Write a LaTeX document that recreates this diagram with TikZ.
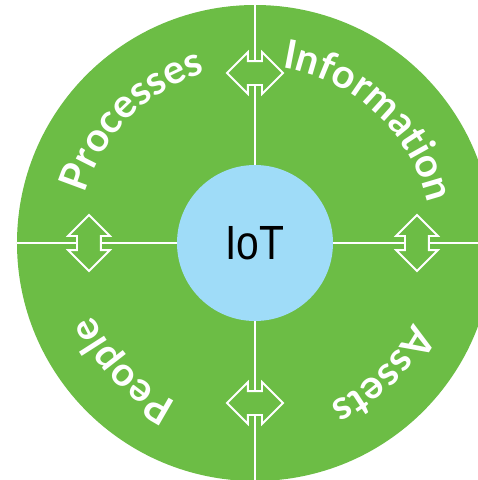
\documentclass[tikz,border=0pt]{standalone}
\usepackage{fontspec}
\usetikzlibrary{shapes.arrows,decorations.text}
\newfontfamily\ringfont{Lato}
\newfontfamily\iotfont[FakeStretch=0.85]{Liberation Sans}
\definecolor{leafgreen}{RGB}{108,189,69}
\definecolor{skyblue}{RGB}{159,220,248}

\begin{document}
\begin{tikzpicture}[x=1pt,y=1pt,
  divider/.style={white, line width=2pt},
  swaparrow/.style={double arrow, draw=white, line width=1.8pt, fill=leafgreen,
    minimum height=56pt, minimum width=40pt, double arrow head extend=9pt,
    double arrow tip angle=90, inner xsep=0pt, inner ysep=11pt},
  ringtext/.style={decorate, decoration={text along path, text align=center,
    text color=white, text format delimiters={|}{|}}}]

%\draw [help lines] (-255,-237) grid (223,243);
\useasboundingbox (-255,-237) rectangle (223,243);
\clip (-255,-237) rectangle (223,243);

% outer ring
\fill [leafgreen] (0,0) circle (238);

% centre
\node [circle, fill=skyblue, minimum size=156pt, inner sep=0pt,
  font=\iotfont\fontsize{48}{48}\selectfont] (iot) at (0,0) {IoT};

% dividers
\coordinate (ringtop) at (0,243);
\coordinate (ringbottom) at (0,-237);
\coordinate (ringleft) at (-238,0);
\coordinate (ringright) at (230,0);
\draw [divider] (iot.north)--(ringtop);
\draw [divider] (iot.south)--(ringbottom);
\draw [divider] (iot.west)--(ringleft);
\draw [divider] (iot.east)--(ringright);

% exchange arrows
\node [swaparrow] (swapnorth) at (0,170) {};
\node [swaparrow] (swapsouth) at (0,-160) {};
\node [swaparrow, rotate=90] (swapwest) at (-166,0) {};
\node [swaparrow, rotate=90] (swapeast) at (162,0) {};

% labels round the ring
\path [ringtext, decoration={text={|\ringfont\bfseries\fontsize{40}{40}\selectfont|Processes}}]
  (195:177) arc [start angle=195, end angle=75, radius=177];
\path [ringtext, decoration={text={|\ringfont\bfseries\fontsize{40}{40}\selectfont|Information}}]
  (107:177) arc [start angle=107, end angle=-13, radius=177];
\path [ringtext, decoration={text={|\ringfont\bfseries\fontsize{40}{40}\selectfont|Assets}}]
  (14:177) arc [start angle=14, end angle=-106, radius=177];
\path [ringtext, decoration={text={|\ringfont\bfseries\fontsize{40}{40}\selectfont|People}}]
  (284:177) arc [start angle=284, end angle=164, radius=177];

\end{tikzpicture}
\end{document}
